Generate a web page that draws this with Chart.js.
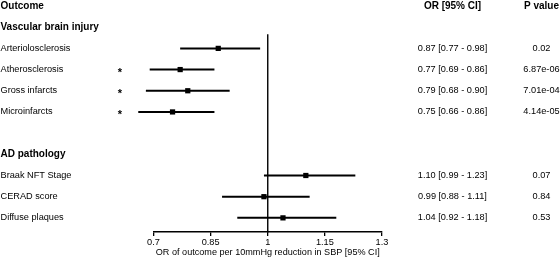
<!DOCTYPE html>
<html>
<head>
<meta charset="utf-8">
<script src="https://cdn.jsdelivr.net/npm/chart.js@4/dist/chart.umd.min.js"></script>
<style>
  html, body { margin: 0; padding: 0; background: #fff; }
  #wrap { width: 560px; height: 259px; position: relative; }
</style>
</head>
<body>
<div id="wrap"><canvas id="forestChart"></canvas></div>
<script>
// datos del forest plot
const groups = ['Vascular brain injury', 'AD pathology'];
const outcomes = ['Arteriolosclerosis', 'Atherosclerosis', 'Gross infarcts', 'Microinfarcts',
                  'Braak NFT Stage', 'CERAD score', 'Diffuse plaques'];
const outcomeGroup = [0, 0, 0, 0, 1, 1, 1];
const orValues = [0.87, 0.77, 0.79, 0.75, 1.10, 0.99, 1.04];
const ciLow = [0.77, 0.69, 0.68, 0.66, 0.99, 0.88, 0.92];
const ciHigh = [0.98, 0.86, 0.90, 0.86, 1.23, 1.11, 1.18];
const pValues = ['0.02', '6.87e-06', '7.01e-04', '4.14e-05', '0.07', '0.84', '0.53'];
const stars = ['', '*', '*', '*', '', '', ''];
const xTicks = [0.7, 0.85, 1, 1.15, 1.3];
const refValue = 1;
const xTitle = 'OR of outcome per 10mmHg reduction in SBP [95% CI]';

const FONT = "'Liberation Sans', Arial, Helvetica, sans-serif";

// filas: 0 = encabezado, luego cada grupo con su titulo y una fila vacia entre grupos
const outcomeRow = [];
const groupRow = [];
let r = 1;
groups.forEach(function (g, gi) {
    if (gi > 0) r++;
    groupRow.push(r++);
    outcomes.forEach(function (o, i) {
        if (outcomeGroup[i] === gi) outcomeRow[i] = r++;
    });
});
const lastRow = r - 1;

const fmt = v => v.toFixed(2);
const orText = orValues.map((v, i) => fmt(v) + ' [' + fmt(ciLow[i]) + ' - ' + fmt(ciHigh[i]) + ']');

const datasets = [];
datasets.push({
    data: [{ x: refValue, y: outcomeRow[0] - 0.67 }, { x: refValue, y: lastRow + 0.7 }],
    showLine: true, borderColor: '#000', borderWidth: 1.4, pointRadius: 0, clip: false
});
outcomes.forEach(function (o, i) {
    datasets.push({
        data: [{ x: ciLow[i], y: outcomeRow[i] }, { x: ciHigh[i], y: outcomeRow[i] }],
        showLine: true, borderColor: '#000', borderWidth: 2, pointRadius: 0, clip: false
    });
});
datasets.push({
    data: orValues.map((v, i) => ({ x: v, y: outcomeRow[i] })),
    pointStyle: 'rect', pointRadius: 3.7, backgroundColor: '#000', borderColor: '#000', borderWidth: 0, clip: false
});

const textPlugin = {
    id: 'forestText',
    afterDraw(chart) {
        const ctx = chart.ctx;
        const ys = chart.scales.y;
        const orX = 452.5, pX = 541.5, starX = 120;
        ctx.save();
        ctx.fillStyle = '#000';
        ctx.textBaseline = 'middle';

        ctx.font = 'bold 10px ' + FONT;
        ctx.textAlign = 'left';
        ctx.fillText('Outcome', 0.5, ys.getPixelForValue(0));
        groups.forEach((g, gi) => ctx.fillText(g, 0.5, ys.getPixelForValue(groupRow[gi])));
        ctx.textAlign = 'center';
        ctx.fillText('OR [95% CI]', orX, ys.getPixelForValue(0));
        ctx.fillText('P value', pX, ys.getPixelForValue(0));

        ctx.font = '9.2px ' + FONT;
        outcomes.forEach(function (o, i) {
            const y = ys.getPixelForValue(outcomeRow[i]);
            ctx.textAlign = 'left';
            ctx.fillText(o, 0.5, y);
            ctx.textAlign = 'center';
            ctx.fillText(orText[i], orX, y);
            ctx.fillText(pValues[i], pX, y);
        });

        ctx.font = 'bold 11px ' + FONT;
        ctx.textBaseline = 'alphabetic';
        ctx.textAlign = 'center';
        outcomes.forEach(function (o, i) {
            if (stars[i]) ctx.fillText(stars[i], starX, ys.getPixelForValue(outcomeRow[i]) + 6.5);
        });
        ctx.restore();
    }
};

document.addEventListener('DOMContentLoaded', function () {
    const ctx = document.getElementById('forestChart').getContext('2d');
    new Chart(ctx, {
        type: 'scatter',
        data: { datasets: datasets },
        options: {
            responsive: true,
            maintainAspectRatio: false,
            animation: false,
            layout: { padding: { left: 153.5, right: 178, top: 0, bottom: 3 } },
            plugins: { legend: { display: false }, tooltip: { enabled: false } },
            scales: {
                x: {
                    type: 'linear',
                    min: xTicks[0],
                    max: xTicks[xTicks.length - 1],
                    afterBuildTicks: s => { s.ticks = xTicks.map(v => ({ value: v })); },
                    ticks: {
                        callback: v => String(v),
                        color: '#000',
                        font: { family: FONT, size: 9.2 },
                        padding: 1,
                        maxRotation: 0,
                        autoSkip: false
                    },
                    grid: { drawOnChartArea: false, drawTicks: true, tickLength: 4, color: '#000', lineWidth: 1.3 },
                    border: { display: true, color: '#000', width: 1.4 },
                    title: {
                        display: true,
                        text: xTitle,
                        color: '#000',
                        font: { family: FONT, size: 9.1, lineHeight: 0.77 },
                        padding: { top: 0, bottom: 0 }
                    }
                },
                y: {
                    type: 'linear',
                    display: false,
                    reverse: true,
                    min: -0.095,
                    max: 10.665
                }
            }
        },
        plugins: [textPlugin]
    });
});
</script>
</body>
</html>
